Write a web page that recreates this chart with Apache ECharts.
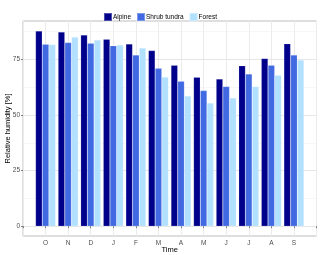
<!DOCTYPE html>
<html><head><meta charset="utf-8">
<script src="https://cdn.jsdelivr.net/npm/echarts@6/dist/echarts.min.js"></script>
<style>html,body{margin:0;padding:0;background:#fff}#c{width:320px;height:255px}</style>
</head><body><div id="c"></div>
<script>
var months = ['O','N','D','J','F','M','A','M','J','J','A','S'];
var seriesNames = ['Alpine','Shrub tundra','Forest'];
var alpine = [87.8,87.4,86.0,84.1,82.0,79.0,72.4,67.0,66.2,72.2,75.4,82.1];
var shrub  = [81.8,82.6,82.3,81.2,77.0,71.0,65.2,61.0,62.8,68.5,72.4,77.0];
var forest = [81.7,85.1,83.8,81.5,80.2,67.1,58.6,55.4,57.7,62.8,67.9,74.8];
var yTicks = [0,25,50,75];
var yMinor = [12.5,37.5,62.5,87.5];
var colors = ['#00008B','#4169E1','#B2E0FF'];

function pts(arr){ return arr.map(function(v,i){ return [i+1, v]; }); }
var chart = echarts.init(document.getElementById('c'));
var font = 'Liberation Sans, Arial, sans-serif';
var grid = [];
yMinor.forEach(function(v){ grid.push({yAxis:v, lineStyle:{color:'#f2f2f2',width:0.6,type:'solid'}}); });
yTicks.forEach(function(v){ grid.push({yAxis:v, lineStyle:{color:'#e6e6e6',width:1,type:'solid'}}); });
var series = [alpine, shrub, forest].map(function(arr, k){
  return {
    name: seriesNames[k], type:'bar', data: pts(arr), barWidth: 6.7, barGap:'0%', z:3,
    itemStyle:{color:colors[k], borderColor:'rgba(255,255,255,0.3)', borderWidth:0.5},
    silent:true
  };
});
series.push({type:'line', data:[], silent:true, z:0, markLine:{z:0, silent:true, symbol:'none', label:{show:false}, data:grid, animation:false}});
chart.setOption({
  animation:false,
  textStyle:{fontFamily:font},
  legend:{top:7, left:'center', itemWidth:8, itemHeight:8, itemGap:5, data:seriesNames,
    textStyle:{fontSize:6.5, color:'#000', fontFamily:font, padding:[0,0,0,-4]}, icon:'rect'},
  grid:{left:23, right:3.5, top:21, bottom:19, show:true, borderColor:'#bdbdbd', borderWidth:1, backgroundColor:'transparent', outerBoundsMode:'none', containLabel:false},
  xAxis:{type:'value', min:0, max:13, interval:1,
    name:'Time', nameLocation:'middle', nameGap:10, nameMoveOverlap:false, nameTextStyle:{fontSize:7.5, color:'#000', fontFamily:font, verticalAlign:'top'},
    axisLine:{show:false},
    axisTick:{show:true, length:2, lineStyle:{color:'#333', width:0.6}},
    axisLabel:{fontSize:6.5, color:'#4d4d4d', margin:4, fontFamily:font,
      formatter:function(v){ return (v>=1 && v<=12) ? months[v-1] : ''; }},
    splitLine:{show:true, lineStyle:{color:'#ebebeb', width:1}}
  },
  yAxis:{type:'value', min:-4.4, max:92.3,
    name:'Relative humidity [%]', nameLocation:'middle', nameGap:11, nameMoveOverlap:false, nameTextStyle:{fontSize:7.5, color:'#000', fontFamily:font},
    axisLine:{show:false},
    axisTick:{show:true, length:2, customValues:yTicks, lineStyle:{color:'#333', width:0.6}},
    axisLabel:{fontSize:6.5, color:'#4d4d4d', margin:3, customValues:yTicks, fontFamily:font},
    splitLine:{show:false}
  },
  series: series
});
</script></body></html>
